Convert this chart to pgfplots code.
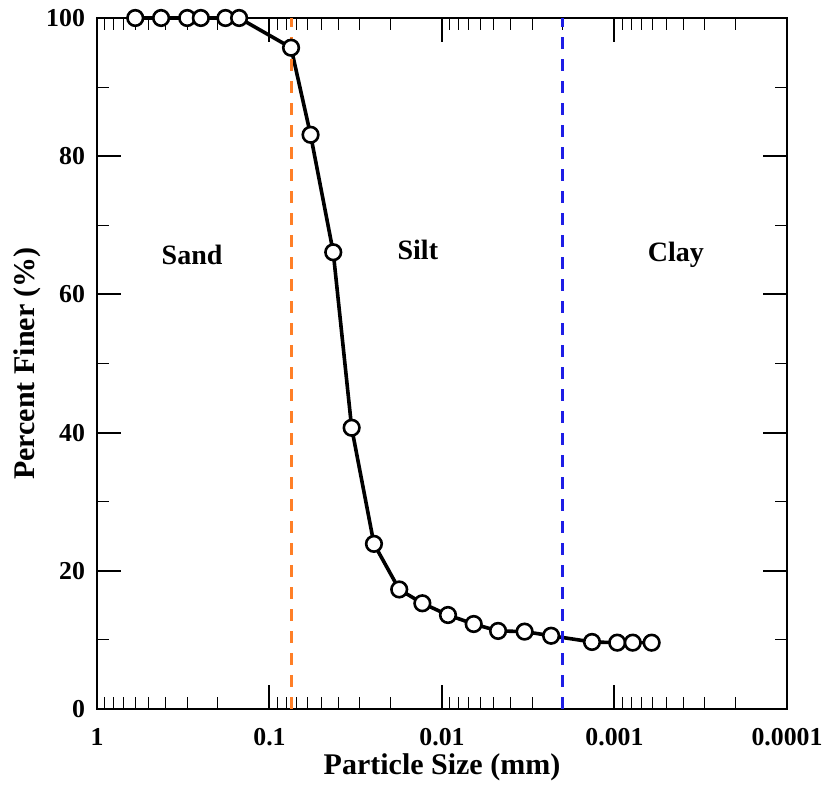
\documentclass[border=0pt]{standalone}
\usepackage{fontspec}
\setmainfont{Liberation Serif}
\usepackage{pgfplots}
\pgfplotsset{compat=1.18}
\definecolor{sandline}{HTML}{FF7F27}
\definecolor{clayline}{HTML}{1E1EE6}

% grain size distribution, sieve + hydrometer
\pgfplotstableread{
size      finer
0.6       100
0.425     100
0.3       100
0.25      100
0.18      100
0.15      100
0.075     95.7
0.0578    83.1
0.0427    66.1
0.0334    40.7
0.0248    23.9
0.0177    17.3
0.0130    15.3
0.00923   13.6
0.00655   12.3
0.00473   11.3
0.00332   11.2
0.00233   10.6
0.00135   9.7
0.000964  9.6
0.000784  9.6
0.000609  9.6
}\gsd

\begin{document}
\begin{tikzpicture}
\begin{axis}[name=ax, at={(0,0)}, anchor=south west,
  scale only axis, width=345pt, height=345.5pt,
  xmode=log, x dir=reverse, xmin=0.0001, xmax=1, ymin=0, ymax=100,
  axis line style={black, line width=1pt},
  xtick={1,0.1,0.01,0.001,0.0001},
  xticklabels={1,0.1,0.01,0.001,0.0001},
  minor xtick={0.2,0.3,0.4,0.5,0.6,0.7,0.8,0.9,
    0.02,0.03,0.04,0.05,0.06,0.07,0.08,0.09,
    0.002,0.003,0.004,0.005,0.006,0.007,0.008,0.009,
    0.0002,0.0003,0.0004,0.0005,0.0006,0.0007,0.0008,0.0009},
  ytick={0,20,40,60,80,100},
  minor ytick={10,30,50,70,90},
  major tick length=12pt, minor tick length=6pt,
  major tick style={black, line width=1pt},
  minor tick style={black, line width=0.5pt},
  /pgf/number format/assume math mode=true,
  tick label style={font=\bfseries\fontsize{12.9}{13}\selectfont},
  xticklabel style={yshift=-6pt},
  yticklabel style={xshift=-2.5pt},
  label style={font=\bfseries\fontsize{15}{17}\selectfont},
  xlabel={Particle Size (mm)},
  ylabel={Percent Finer (\%)},
  xlabel shift=-3pt,
  ylabel shift=-4pt,
  clip=false]
\addplot[black, line width=1.8pt, mark=*, mark size=3.9pt,
  mark options={fill=white, draw=black, line width=1.3pt}]
  table[x=size, y=finer] {\gsd};
\addplot[sandline, line width=1.5pt, dash pattern=on 6pt off 5pt]
  coordinates {(0.075,0) (0.075,100)};
\addplot[clayline, line width=1.5pt, dash pattern=on 6pt off 5pt]
  coordinates {(0.002,0) (0.002,100)};
\node[font=\bfseries\fontsize{14}{16}\selectfont] at (axis cs:0.281,65.7) {Sand};
\node[font=\bfseries\fontsize{14}{16}\selectfont] at (axis cs:0.0138,66.4) {Silt};
\node[font=\bfseries\fontsize{14}{16}\selectfont] at (axis cs:0.00044,65.7) {Clay};
\end{axis}
\pgfresetboundingbox
\path[use as bounding box] (-48.5pt,-39pt) rectangle (364.5pt,354.5pt);
\end{tikzpicture}
\end{document}
